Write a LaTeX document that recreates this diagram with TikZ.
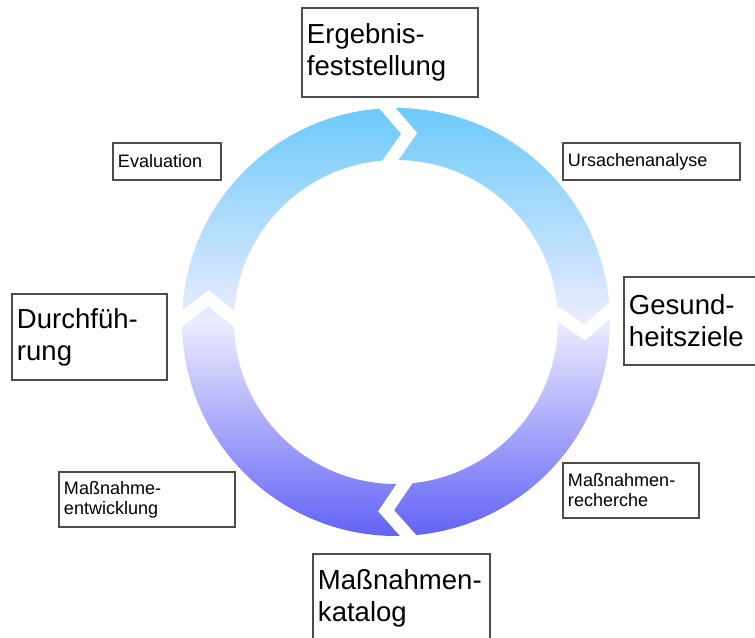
\documentclass[tikz,border=0pt]{standalone}
\usepackage{fontspec}
\setmainfont{Liberation Sans}
\usetikzlibrary{calc}
\definecolor{ringtop}{RGB}{108,202,250}
\definecolor{ringmid}{RGB}{236,236,255}
\definecolor{ringbot}{RGB}{98,98,245}

\begin{document}
\begin{tikzpicture}[x=0.03cm,y=0.03cm]
\tikzset{
  bigbox/.style={draw=black!70,line width=1.1pt,align=left,inner xsep=0.15cm,inner ysep=0pt,font=\fontsize{23.5}{27.5}\selectfont},
  smallbox/.style={bigbox,font=\fontsize{15.4}{17}\selectfont},
  notch/.style={white,line width=0.38cm}
}
\useasboundingbox (-396,-315) rectangle (359,322);
% ring with the four gaps
\shade[top color=ringtop,bottom color=ringbot,middle color=ringmid,even odd rule]
  (0,0) circle[radius=214] (0,0) circle[radius=162];
\foreach \a in {92.5,3.3,-86.5,179.3}{
  \coordinate (v) at (\a-6.5:189);
  \draw[notch] ($(v)!1.6!(\a:160)$) -- (v) -- ($(v)!1.6!(\a:215)$);
}
% boxes
\node[bigbox,text width=4.98cm,minimum height=2.67cm] (n_ergebnis) at (-6,269.5) {Ergebnis-\\feststellung};
\node[smallbox,text width=5.01cm,minimum height=1.11cm] (n_ursachen) at (255.5,160.5) {Ursachenanalyse};
\node[bigbox,text width=4.08cm,minimum height=2.64cm] (n_gesund) at (301,1) {Gesund-\\heitsziele};
\node[smallbox,text width=3.78cm,minimum height=1.65cm] (n_recherche) at (235,-168.5) {Maßnahmen-\\recherche};
\node[bigbox,text width=5.01cm,minimum height=2.67cm] (n_katalog) at (5.5,-276.5) {Maßnahmen-\\katalog};
\node[smallbox,text width=4.98cm,minimum height=1.65cm] (n_entwicklung) at (-249,-177.5) {Maßnahme-\\entwicklung};
\node[bigbox,text width=4.35cm,minimum height=2.58cm] (n_durchf) at (-306.5,-15) {Durchfüh-\\rung};
\node[smallbox,text width=2.94cm,minimum height=1.11cm] (n_evaluation) at (-229,160.5) {Evaluation};
\end{tikzpicture}
\end{document}
